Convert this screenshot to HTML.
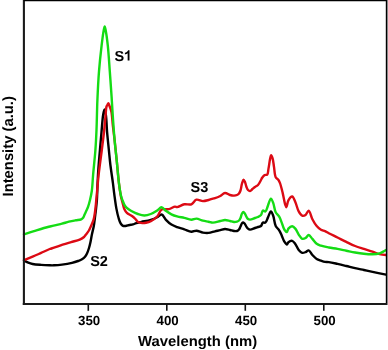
<!DOCTYPE html>
<html><head><meta charset="utf-8">
<style>
html,body{margin:0;padding:0;background:#fff;}
body{width:388px;height:350px;overflow:hidden;}
svg{display:block;}
text{font-family:"Liberation Sans",sans-serif;font-weight:bold;fill:#000;text-rendering:geometricPrecision;}
svg{will-change:transform;}
</style></head>
<body>
<svg width="388" height="350" viewBox="0 0 388 350">
<rect x="0" y="0" width="388" height="350" fill="#fff"/>
<g fill="none" stroke-linejoin="round" stroke-linecap="round" stroke-width="2.4">
<path d="M24.00,260.40C24.00,260.40 26.84,262.09 28.30,262.70C29.71,263.28 30.91,263.66 32.60,264.00C34.94,264.47 38.26,264.68 41.10,264.90C43.96,265.12 47.32,265.24 49.70,265.30C51.38,265.34 52.35,265.37 54.00,265.30C56.26,265.20 59.19,264.97 62.00,264.60C65.16,264.18 69.11,263.49 72.00,262.80C74.27,262.26 76.22,261.64 78.00,261.00C79.48,260.46 80.81,260.03 82.00,259.30C83.13,258.61 84.17,257.77 85.00,256.80C85.83,255.84 86.39,254.77 87.00,253.50C87.75,251.93 88.42,249.89 89.00,248.00C89.59,246.06 90.03,244.15 90.50,242.00C91.04,239.53 91.45,236.66 92.00,234.00C92.55,231.33 93.31,228.76 93.80,226.00C94.32,223.10 94.62,219.91 95.00,217.00C95.35,214.26 95.69,211.75 96.00,209.00C96.33,206.09 96.66,203.39 96.90,200.00C97.20,195.64 97.27,190.00 97.50,185.00C97.73,180.00 97.93,175.40 98.30,170.00C98.73,163.65 99.44,155.87 100.00,149.30C100.51,143.33 100.98,137.90 101.50,132.20C102.02,126.50 102.40,119.25 103.10,115.10C103.51,112.67 104.03,109.40 104.50,109.40C104.97,109.40 105.52,112.67 105.90,115.10C106.55,119.25 106.62,126.50 107.10,132.20C107.58,137.90 108.24,143.72 108.80,149.30C109.34,154.65 109.75,159.61 110.40,165.00C111.10,170.75 112.21,177.51 112.90,182.80C113.46,187.05 113.76,190.26 114.30,194.30C114.91,198.81 115.59,204.35 116.40,208.60C117.06,212.08 117.78,215.31 118.60,218.00C119.24,220.10 119.81,222.13 120.70,223.50C121.36,224.52 122.14,225.40 123.00,225.80C123.76,226.15 124.58,226.08 125.50,226.00C126.66,225.90 128.13,225.27 129.40,225.00C130.59,224.75 131.76,224.71 132.90,224.40C134.06,224.08 135.04,223.49 136.30,223.10C137.81,222.63 139.44,222.35 141.40,221.90C144.06,221.29 148.00,220.68 150.80,219.80C153.17,219.06 155.29,218.16 157.20,217.20C158.87,216.37 160.30,214.25 161.70,214.50C163.34,214.79 164.56,218.40 166.20,220.10C167.80,221.76 169.53,223.42 171.40,224.60C173.18,225.72 175.07,226.35 177.10,227.10C179.34,227.93 181.91,228.53 184.30,229.30C186.68,230.07 189.22,231.56 191.40,231.70C193.20,231.82 194.63,230.62 196.40,230.70C198.43,230.79 200.78,232.24 202.90,232.60C204.84,232.93 206.66,233.09 208.60,232.90C210.69,232.70 212.96,231.77 215.00,231.30C216.85,230.88 218.59,230.60 220.30,230.20C221.92,229.83 223.40,229.04 225.00,229.00C226.64,228.96 228.43,229.65 230.00,230.00C231.41,230.32 232.75,230.85 234.00,231.00C235.06,231.13 236.14,231.29 237.00,231.00C237.78,230.74 238.44,230.17 239.00,229.50C239.65,228.73 240.01,227.53 240.50,226.50C241.01,225.43 241.42,223.88 242.00,223.20C242.37,222.77 242.79,222.38 243.20,222.40C243.65,222.42 244.16,222.99 244.60,223.50C245.19,224.18 245.62,225.43 246.20,226.30C246.75,227.13 247.31,228.04 248.00,228.60C248.60,229.09 249.17,229.54 250.00,229.60C251.28,229.70 253.55,228.47 255.00,228.00C256.13,227.63 257.00,227.33 258.00,227.00C259.00,226.67 260.20,226.66 261.00,226.00C261.88,225.27 262.04,223.10 262.90,222.60C263.59,222.20 264.67,223.05 265.40,222.60C266.51,221.91 267.12,219.20 268.00,217.40C268.95,215.47 269.97,211.42 270.90,211.40C271.69,211.38 272.51,213.90 273.20,215.70C274.21,218.35 274.41,223.41 275.70,226.00C276.63,227.87 278.21,228.74 279.20,230.30C280.21,231.90 280.88,233.70 281.70,235.50C282.58,237.42 283.30,239.90 284.30,241.50C285.08,242.74 286.18,244.55 286.90,244.50C287.50,244.46 287.65,242.79 288.40,242.20C289.31,241.48 291.07,240.55 292.20,240.80C293.38,241.06 294.32,242.62 295.30,243.90C296.52,245.51 297.40,248.35 298.70,249.90C299.76,251.16 300.96,252.49 302.20,252.80C303.28,253.07 304.52,252.50 305.60,252.10C306.69,251.70 307.70,250.20 308.70,250.40C309.99,250.66 311.06,253.57 312.40,255.00C313.73,256.43 315.17,258.03 316.70,259.00C318.06,259.86 319.58,260.21 321.00,260.70C322.35,261.17 323.67,261.67 325.00,261.90C326.27,262.12 327.28,261.90 328.80,262.10C331.12,262.40 334.60,263.25 337.50,263.90C340.43,264.55 343.37,265.28 346.30,266.00C349.24,266.72 352.16,267.53 355.10,268.20C358.03,268.86 360.98,269.40 363.90,270.00C366.81,270.60 369.39,271.12 372.60,271.80C376.59,272.64 386.00,274.70 386.00,274.70" stroke="#000"/>
<path d="M24.00,260.10C24.00,260.10 29.75,257.90 32.60,256.70C35.45,255.50 38.26,254.18 41.10,252.90C43.96,251.61 47.30,249.90 49.70,249.00C51.36,248.38 52.33,248.24 54.00,247.70C56.38,246.92 59.73,245.64 62.60,244.70C65.43,243.77 68.26,242.95 71.10,242.10C73.96,241.25 77.38,240.62 79.70,239.60C81.44,238.84 82.90,237.97 84.00,237.00C84.88,236.23 85.30,235.41 86.00,234.50C86.82,233.44 87.81,232.31 88.60,231.00C89.49,229.52 90.21,227.77 91.00,226.00C91.88,224.03 92.94,221.94 93.60,219.70C94.31,217.30 94.62,214.60 95.00,212.00C95.39,209.37 95.59,207.04 95.90,204.00C96.31,199.98 96.76,194.75 97.20,190.00C97.66,185.09 97.98,180.63 98.60,175.00C99.41,167.72 100.84,157.65 101.80,150.00C102.61,143.51 103.36,137.92 104.00,132.00C104.62,126.26 105.13,119.69 105.60,115.00C105.93,111.68 105.95,108.14 106.50,106.50C106.75,105.76 107.09,105.52 107.40,105.00C107.73,104.45 108.07,103.28 108.40,103.30C108.84,103.33 109.26,105.30 109.70,106.50C110.25,108.02 110.94,109.54 111.40,111.70C112.12,115.08 112.29,120.44 112.80,125.00C113.35,129.85 113.99,134.55 114.60,140.00C115.32,146.50 116.08,154.27 116.80,161.40C117.52,168.53 118.20,176.90 118.90,182.80C119.40,186.98 119.91,190.59 120.40,193.50C120.74,195.52 121.02,196.97 121.40,198.60C121.76,200.13 122.16,201.42 122.60,203.00C123.11,204.85 123.50,207.27 124.30,209.00C124.99,210.50 125.73,211.78 126.90,212.90C128.22,214.16 130.51,214.91 132.00,216.00C133.30,216.95 134.37,217.96 135.40,219.00C136.36,219.97 136.90,221.32 138.00,222.00C139.17,222.72 140.91,222.98 142.30,223.10C143.57,223.21 144.70,223.06 146.00,222.80C147.51,222.49 149.15,222.05 150.80,221.20C152.86,220.13 155.40,218.42 157.20,216.50C159.05,214.54 159.65,210.68 161.70,209.50C163.60,208.41 166.56,209.70 168.80,209.20C170.98,208.71 173.46,206.73 175.00,206.60C175.87,206.53 176.20,207.16 177.10,207.10C178.80,206.98 181.86,204.76 184.30,204.30C186.63,203.86 189.37,205.09 191.40,204.30C193.39,203.52 194.47,200.23 196.40,199.70C198.31,199.18 200.80,201.08 202.90,201.10C204.86,201.12 206.85,200.45 208.60,200.00C210.15,199.60 211.71,198.91 212.90,198.60C213.72,198.39 214.16,198.45 215.00,198.20C216.38,197.79 218.62,196.87 220.30,196.00C221.95,195.14 223.37,193.15 225.00,193.00C226.60,192.85 228.40,194.57 230.00,195.00C231.38,195.38 232.76,195.63 234.00,195.60C235.07,195.57 236.14,195.39 237.00,195.00C237.78,194.65 238.44,194.17 239.00,193.50C239.65,192.73 240.06,191.74 240.50,190.50C241.14,188.68 241.40,185.44 242.00,183.50C242.45,182.05 242.94,179.86 243.50,179.80C243.96,179.75 244.56,181.08 245.00,182.00C245.62,183.29 245.93,185.57 246.50,187.00C246.96,188.15 247.33,189.33 248.00,190.00C248.55,190.55 249.32,191.07 250.00,191.00C250.81,190.91 251.67,189.67 252.50,189.00C253.33,188.33 254.11,187.65 255.00,187.00C255.94,186.31 257.09,185.95 258.00,185.00C259.15,183.79 260.29,181.30 261.00,180.00C261.44,179.19 261.53,178.70 262.00,178.00C262.62,177.08 263.63,175.65 264.60,175.10C265.40,174.65 266.56,175.22 267.20,174.60C268.17,173.65 268.07,170.87 268.50,168.60C269.07,165.63 269.65,160.72 270.20,158.30C270.51,156.95 270.71,155.23 271.10,155.20C271.50,155.17 272.18,156.97 272.60,158.30C273.27,160.42 273.51,163.90 274.00,166.90C274.54,170.18 274.56,175.04 275.70,177.20C276.37,178.47 277.59,178.72 278.30,179.70C279.04,180.71 279.44,181.72 280.00,183.20C280.89,185.55 281.78,189.26 282.60,192.60C283.52,196.34 284.36,202.09 285.20,204.60C285.61,205.81 285.99,207.23 286.40,207.20C287.05,207.15 287.31,202.15 288.40,200.30C289.35,198.70 291.08,196.35 292.20,196.50C293.41,196.67 294.33,199.88 295.30,202.00C296.53,204.67 297.32,208.96 298.70,211.40C299.73,213.22 300.89,215.25 302.20,215.70C303.24,216.05 304.60,215.57 305.60,214.90C306.83,214.08 307.71,210.49 308.70,210.60C310.01,210.74 311.00,216.55 312.40,219.20C313.69,221.65 315.12,224.15 316.70,226.00C318.03,227.56 319.50,228.92 321.00,229.80C322.29,230.55 323.70,230.64 325.00,231.20C326.30,231.77 327.27,232.42 328.80,233.20C331.10,234.37 334.59,236.06 337.50,237.50C340.43,238.95 343.36,240.48 346.30,241.90C349.22,243.31 352.13,244.82 355.10,246.00C358.00,247.15 360.97,247.96 363.90,248.90C366.80,249.83 369.87,250.67 372.60,251.60C375.07,252.44 377.29,253.63 379.60,254.20C381.75,254.73 386.00,255.00 386.00,255.00" stroke="#dc0a14"/>
<path d="M24.00,234.30C24.00,234.30 30.66,232.15 34.00,231.10C37.33,230.05 41.08,228.82 44.00,228.00C46.24,227.37 48.00,226.98 50.00,226.50C52.00,226.02 54.00,225.57 56.00,225.10C58.00,224.63 59.94,224.24 62.00,223.70C64.23,223.12 66.60,222.27 68.90,221.70C71.16,221.14 73.55,220.70 75.70,220.30C77.63,219.94 79.86,220.04 81.20,219.40C82.15,218.94 82.74,218.27 83.30,217.50C83.89,216.69 84.15,215.57 84.60,214.60C85.05,213.61 85.50,212.71 86.00,211.60C86.62,210.23 87.38,208.72 88.00,207.00C88.74,204.93 89.40,202.49 90.00,200.00C90.68,197.20 91.32,194.44 91.80,191.00C92.44,186.44 92.59,180.92 93.10,175.00C93.74,167.59 94.82,157.87 95.40,150.00C95.92,142.97 96.19,137.34 96.50,130.00C96.88,121.01 96.98,109.89 97.40,100.00C97.81,90.32 98.27,80.59 99.00,71.30C99.69,62.49 100.72,52.96 101.60,45.60C102.26,40.04 102.94,34.46 103.60,31.00C103.97,29.06 104.33,26.50 104.70,26.50C105.07,26.50 105.43,29.06 105.80,31.00C106.46,34.46 107.20,40.04 107.80,45.60C108.59,52.95 109.17,62.74 109.80,71.30C110.43,79.84 111.13,89.78 111.60,96.90C111.93,101.99 112.05,104.74 112.40,110.00C112.93,117.96 113.79,130.85 114.60,140.00C115.28,147.74 116.08,154.27 116.80,161.40C117.52,168.53 118.09,176.58 118.90,182.80C119.53,187.65 120.20,192.47 121.00,195.70C121.50,197.71 121.96,198.86 122.60,200.50C123.30,202.29 124.02,204.48 125.10,206.00C126.07,207.35 127.45,208.43 128.60,209.30C129.55,210.02 130.25,210.39 131.40,211.00C133.10,211.90 135.70,213.24 137.90,214.00C140.01,214.72 142.16,215.50 144.30,215.50C146.46,215.50 148.70,214.80 150.80,214.00C153.00,213.16 155.32,211.71 157.20,210.50C158.82,209.46 160.05,207.27 161.50,207.30C163.04,207.33 164.55,209.94 166.20,211.10C167.85,212.27 169.58,213.42 171.40,214.30C173.21,215.18 175.07,215.82 177.10,216.40C179.34,217.04 181.91,217.35 184.30,217.90C186.68,218.45 189.24,219.67 191.40,219.70C193.21,219.73 194.64,218.52 196.40,218.60C198.44,218.70 200.79,220.18 202.90,220.70C204.85,221.18 206.84,221.36 208.60,221.70C210.14,222.00 211.27,222.61 212.90,222.60C215.03,222.59 218.11,221.47 220.30,221.00C222.04,220.63 223.41,220.01 225.00,220.00C226.64,219.99 228.43,220.65 230.00,221.00C231.41,221.32 232.76,221.93 234.00,222.00C235.07,222.06 236.12,221.89 237.00,221.60C237.76,221.35 238.44,221.04 239.00,220.50C239.63,219.89 240.05,218.98 240.50,218.00C241.08,216.74 241.37,214.55 242.00,213.50C242.41,212.81 242.93,212.00 243.40,212.00C243.87,212.00 244.37,212.88 244.80,213.50C245.35,214.30 245.75,215.56 246.30,216.50C246.82,217.39 247.30,218.49 248.00,219.00C248.58,219.42 249.18,219.61 250.00,219.60C251.29,219.59 253.55,218.47 255.00,218.00C256.13,217.63 257.03,217.47 258.00,217.00C259.04,216.49 260.21,215.95 261.00,215.00C261.91,213.91 261.98,211.02 262.90,210.60C263.58,210.29 264.68,211.73 265.40,211.40C266.54,210.88 267.11,207.46 268.00,205.40C268.94,203.21 269.95,198.64 270.90,198.60C271.67,198.57 272.51,201.14 273.20,202.90C274.18,205.38 274.46,209.87 275.70,212.30C276.64,214.13 278.22,214.97 279.20,216.60C280.26,218.37 280.88,220.52 281.70,222.60C282.58,224.81 283.21,227.85 284.30,229.50C285.06,230.65 286.22,232.13 286.90,232.00C287.59,231.86 287.59,229.53 288.40,228.60C289.29,227.59 291.02,226.24 292.20,226.30C293.30,226.35 294.35,227.52 295.30,228.60C296.58,230.04 297.47,232.83 298.70,234.60C299.79,236.18 300.89,238.36 302.20,238.80C303.24,239.15 304.56,238.57 305.60,238.00C306.75,237.37 307.63,234.98 308.70,235.00C309.89,235.03 311.13,237.51 312.40,238.90C313.79,240.43 315.13,242.65 316.70,243.80C318.03,244.78 319.32,245.14 321.00,245.70C323.19,246.43 326.12,246.98 328.80,247.50C331.61,248.05 334.60,248.37 337.50,248.90C340.43,249.44 343.37,250.10 346.30,250.70C349.23,251.30 352.16,251.98 355.10,252.50C358.03,253.02 360.97,253.50 363.90,253.80C366.80,254.10 369.86,254.40 372.60,254.30C375.06,254.21 377.69,253.98 379.60,253.40C381.04,252.96 382.08,252.20 383.20,251.60C384.20,251.06 386.00,250.00 386.00,250.00" stroke="#14dc14"/>
</g>
<line x1="23.9" y1="0" x2="23.9" y2="304.9" stroke="#1a1a1a" stroke-width="2.1"/>
<line x1="23.9" y1="0.5" x2="386.6" y2="0.5" stroke="#000" stroke-width="1.4"/>
<line x1="386.6" y1="0" x2="386.6" y2="305" stroke="#000" stroke-width="1.6"/>
<line x1="387.5" y1="0" x2="387.5" y2="305" stroke="#888" stroke-width="1"/>
<line x1="22.8" y1="303.9" x2="387" y2="303.9" stroke="#1a1a1a" stroke-width="2.0"/>
<line x1="88.3" y1="304" x2="88.3" y2="310.8" stroke="#111" stroke-width="1.6"/><line x1="166.8" y1="304" x2="166.8" y2="310.8" stroke="#111" stroke-width="1.6"/><line x1="245.3" y1="304" x2="245.3" y2="310.8" stroke="#111" stroke-width="1.6"/><line x1="323.8" y1="304" x2="323.8" y2="310.8" stroke="#111" stroke-width="1.6"/>
<g font-size="13.3"><text x="89.1" y="324.9" text-anchor="middle">350</text><text x="167.6" y="324.9" text-anchor="middle">400</text><text x="246.1" y="324.9" text-anchor="middle">450</text><text x="324.6" y="324.9" text-anchor="middle">500</text></g>
<text x="138.1" y="346" font-size="14.5" textLength="119" lengthAdjust="spacingAndGlyphs">Wavelength (nm)</text>
<text transform="translate(12.9,146.3) rotate(-90)" font-size="14.8" text-anchor="middle">Intensity (a.u.)</text>
<text x="114.4" y="60.6" font-size="14.5">S</text>
<path d="M129.49,60.60 L127.65,60.60 L127.65,53.20 L126.56,54.00 L125.55,54.37 L124.90,54.58 L124.90,52.84 L125.98,52.48 L127.00,51.76 L127.72,50.96 L128.09,50.22 L129.49,50.22Z" fill="#000"/>
<text x="90.2" y="266" font-size="14.5">S2</text>
<text x="190.6" y="191.7" font-size="14.5">S3</text>
</svg>
</body></html>
